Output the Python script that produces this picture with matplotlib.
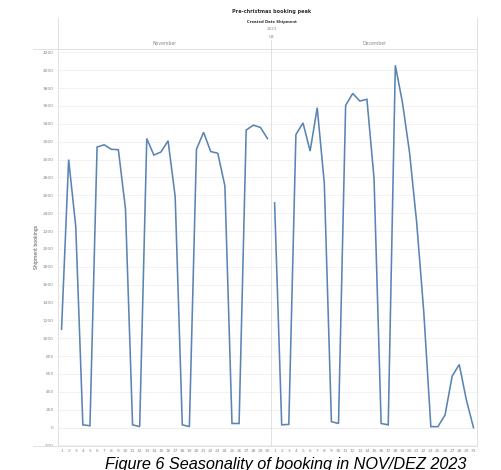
import matplotlib.pyplot as plt

# Tägliche Buchungen (gelesen aus der Grafik)
nov_days = [str(d) for d in range(1, 31)]
nov_values = [1100, 3000, 2250, 30, 20, 3140, 3165, 3115, 3110, 2450,
              30, 10, 3235, 3050, 3085, 3210, 2585, 30, 10, 3115,
              3305, 3090, 3070, 2705, 45, 45, 3330, 3385, 3360, 3235]

dec_days = [str(d) for d in list(range(1, 24)) + [25, 26, 27, 28, 29, 31]]
dec_values = [2515, 30, 35, 3280, 3410, 3095, 3580, 2735, 65, 45,
              3605, 3740, 3655, 3675, 2790, 45, 30, 4055, 3640, 3080,
              2300, 1300, 10, 10, 140, 575, 705, 310, 0]

y_ticks = list(range(-200, 4201, 200))

W, H = 502, 470
LINE = '#5a84b4'
GRID = '#f0f0f0'
BORDER = '#dcdcdc'
TICK = '#8a8a8a'

fig = plt.figure(figsize=(W / 100, H / 100), dpi=100)

def fx(px):
    return px / W

def fy(py):
    return 1 - py / H

left, right, top, bottom = 58, 477, 48.7, 446
mid = left + (right - left) * len(nov_days) / (len(nov_days) + len(dec_days))

ax1 = fig.add_axes([fx(left), fy(bottom), fx(mid - left), (bottom - top) / H])
ax2 = fig.add_axes([fx(mid), fy(bottom), fx(right - mid), (bottom - top) / H])

for ax, days, vals in [(ax1, nov_days, nov_values), (ax2, dec_days, dec_values)]:
    x = list(range(len(days)))
    ax.plot(x, vals, color=LINE, lw=1.15, solid_joinstyle='miter')
    ax.set_xlim(-0.5, len(days) - 0.5)
    ax.set_ylim(-207, 4241)
    ax.set_xticks(x)
    ax.set_xticklabels(days, fontsize=3.2, color=TICK)
    ax.set_yticks(y_ticks)
    ax.tick_params(length=0, pad=2)
    ax.grid(axis='y', color=GRID, lw=0.6)
    ax.axhline(0, color='#e2e2e2', lw=0.7, zorder=0)
    for s in ax.spines.values():
        s.set_visible(False)
    ax.set_facecolor('none')

ax1.set_yticklabels([str(t) for t in y_ticks], fontsize=3.2, color=TICK)
ax1.tick_params(axis='y', pad=3)
ax2.set_yticklabels([])
ax1.set_ylabel('Shipment bookings', fontsize=3.3, color='#555555', labelpad=3)

# Rahmenlinien im Tableau-Stil
def hline(py, x0, x1):
    fig.add_artist(plt.Line2D([fx(x0), fx(x1)], [fy(py), fy(py)], color=BORDER, lw=0.6))

def vline(px, y0, y1):
    fig.add_artist(plt.Line2D([fx(px), fx(px)], [fy(y0), fy(y1)], color=BORDER, lw=0.6))

hline(top, 33, right)
hline(bottom, 33, right)
vline(left, 18, bottom)
vline(right, 18, bottom)
vline(mid, 40, bottom)

# Kopfzeilen
fig.text(fx(272), fy(11.7), 'Pre-christmas booking peak', fontsize=3.6, weight='bold',
         color='#333333', ha='center', va='center')
fig.text(fx(272), fy(22.3), 'Created Date Shipment', fontsize=2.7, weight='bold',
         color='#333333', ha='center', va='center')
fig.text(fx(272), fy(29.2), '2023', fontsize=3.0, color=TICK, ha='center', va='center')
fig.text(fx(272), fy(36.3), 'Q4', fontsize=3.0, color=TICK, ha='center', va='center')
fig.text(fx((left + mid) / 2), fy(43.3), 'November', fontsize=3.3, color=TICK,
         ha='center', va='center')
fig.text(fx((mid + right) / 2), fy(43.3), 'December', fontsize=3.3, color=TICK,
         ha='center', va='center')

fig.text(fx(105), fy(469), 'Figure 6 Seasonality of booking in NOV/DEZ 2023',
         fontsize=11.7, style='italic', family='Liberation Sans', color='black',
         ha='left', va='baseline')

fig.savefig('out.png', dpi=100)
